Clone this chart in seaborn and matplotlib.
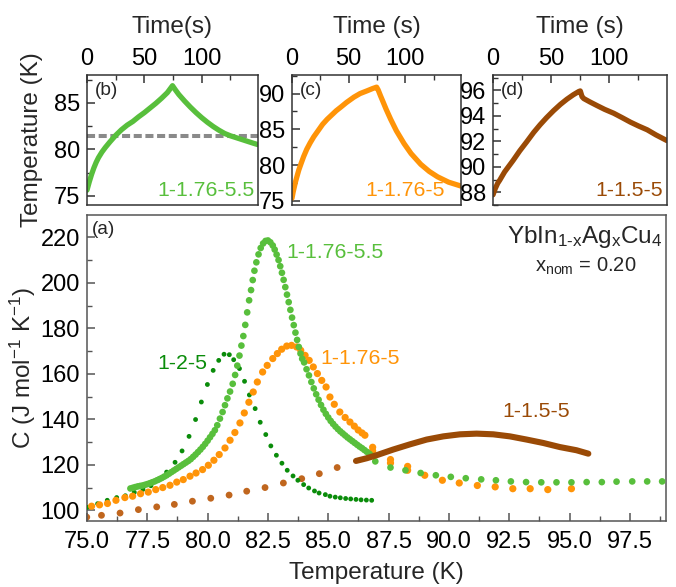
import numpy as np
import pandas as pd
import matplotlib
matplotlib.use("Agg")
import matplotlib.pyplot as plt
from matplotlib.ticker import MultipleLocator, FormatStrFormatter
import seaborn as sns

# ---------------- heat capacity data, panel (a) ----------------
# sample 1-2-5
t_125 = [75.00, 75.44, 75.84, 76.23, 76.59, 76.96, 77.32, 77.65, 77.98, 78.30,
         78.65, 78.94, 79.23, 79.50, 79.74, 79.99, 80.23, 80.46, 80.68, 80.90,
         81.08, 81.32, 81.53, 81.73, 81.97, 82.18, 82.41, 82.62, 82.85, 83.08,
         83.30, 83.54, 83.74, 83.98, 84.19, 84.43, 84.62, 84.88, 85.07, 85.29,
         85.50, 85.72, 85.93, 86.15, 86.36, 86.58, 86.80]
c_125 = [101.3, 102.9, 104.4, 105.6, 106.4, 107.9, 109.2, 110.8, 113.3, 116.8,
         121.1, 126.1, 132.5, 139.9, 147.6, 155.3, 161.5, 165.9, 168.6, 168.4,
         166.2, 162.3, 156.7, 150.7, 144.7, 138.7, 133.3, 128.3, 124.2, 120.7,
         117.6, 115.1, 113.2, 111.3, 109.8, 108.5, 107.6, 106.9, 106.2, 105.8,
         105.5, 105.2, 105.0, 104.8, 104.6, 104.5, 104.4]

# sample 1-1.76-5.5
t_55 = [76.80, 76.90, 77.00, 77.10, 77.20, 77.30, 77.40, 77.50, 77.60, 77.70,
        77.80, 77.90, 78.00, 78.10, 78.20, 78.30, 78.40, 78.50, 78.60, 78.70,
        78.80, 78.90, 79.00, 79.10, 79.20, 79.30, 79.40, 79.50, 79.60, 79.70,
        79.80, 79.90, 80.00, 80.10, 80.20, 80.30, 80.40, 80.51, 80.62, 80.72,
        80.82, 80.93, 81.04, 81.14, 81.23, 81.32, 81.40, 81.48, 81.56, 81.64,
        81.72, 81.80, 81.87, 81.94, 82.02, 82.11, 82.20, 82.30, 82.40, 82.50,
        82.60, 82.70, 82.78, 82.86, 82.94, 83.01, 83.08, 83.15, 83.22, 83.29,
        83.36, 83.43, 83.50, 83.57, 83.64, 83.71, 83.78, 83.85, 83.92, 84.00,
        84.10, 84.20, 84.30, 84.40, 84.50, 84.60, 84.70, 84.80, 84.90, 85.00,
        85.10, 85.20, 85.30, 85.40, 85.50, 85.60, 85.70, 85.80, 85.90, 86.00,
        86.10, 86.20, 86.30, 86.40, 86.50, 86.60, 86.70, 86.80, 86.95,
        87.58, 88.20, 88.83, 89.46, 90.08, 90.70, 91.34, 91.95, 92.57, 93.20,
        93.83, 94.46, 95.08, 95.71, 96.34, 96.95, 97.60, 98.22, 98.84]
c_55 = [109.6, 109.9, 110.2, 110.5, 110.7, 110.9, 111.2, 111.5, 111.9, 112.3,
        112.7, 113.2, 113.7, 114.2, 114.8, 115.4, 116.1, 116.8, 117.5, 118.2,
        118.9, 119.6, 120.3, 121.0, 121.7, 122.5, 123.5, 124.5, 125.6, 126.7,
        127.9, 129.2, 130.6, 132.1, 133.6, 135.2, 137.4, 140.3, 143.2, 146.2,
        149.2, 152.2, 155.6, 159.5, 163.6, 168.0, 172.4, 176.6, 181.5, 187.0,
        192.3, 196.8, 201.2, 205.3, 209.0, 212.5, 215.3, 217.3, 218.4, 218.6,
        217.8, 216.4, 214.6, 212.4, 210.0, 207.3, 204.4, 201.3, 198.1, 194.8,
        191.5, 188.1, 184.7, 181.4, 178.1, 174.9, 171.8, 168.9, 166.6, 165.0,
        162.0, 159.3, 156.4, 153.6, 151.0, 148.6, 146.3, 144.2, 142.4, 140.8,
        139.3, 138.0, 136.8, 135.7, 134.7, 133.8, 132.9, 132.0, 131.2, 130.4,
        129.6, 128.8, 128.0, 127.3, 126.5, 125.7, 124.9, 124.0, 121.5,
        118.8, 117.6, 116.4, 115.4, 114.7, 114.1, 113.6, 113.2, 112.7, 112.4,
        112.3, 112.3, 112.3, 112.4, 112.4, 112.6, 112.7, 112.7, 112.7]

# sample 1-1.76-5
t_5 = [75.19, 75.52, 75.85, 76.20, 76.57, 76.89, 77.22, 77.54, 77.85, 78.14,
       78.44, 78.72, 78.99, 79.27, 79.52, 79.79, 80.03, 80.26, 80.48, 80.72,
       80.93, 81.13, 81.34, 81.52, 81.71, 81.89, 82.06, 82.28, 82.47, 82.70,
       82.89, 83.07, 83.28, 83.48, 83.69, 83.86, 84.04, 84.21, 84.38, 84.55,
       84.73, 84.91, 85.07, 85.25, 85.48, 85.70, 85.90, 86.08, 86.24, 86.40,
       86.52, 86.84, 86.84, 87.58, 87.58, 88.29, 88.29, 89.00, 89.73, 90.43,
       91.18, 91.92, 92.65, 93.37, 94.10, 95.08]
c_5 = [101.8, 102.4, 103.0, 104.4, 105.6, 106.2, 107.3, 108.0, 109.1, 110.0,
       111.0, 112.4, 113.5, 115.0, 116.4, 117.9, 119.8, 122.0, 124.5, 127.4,
       130.8, 134.2, 138.4, 142.8, 147.5, 152.0, 156.4, 160.8, 163.7, 166.7,
       168.9, 170.8, 172.2, 172.5, 171.8, 170.3, 168.1, 165.9, 163.0, 160.1,
       157.1, 154.2, 149.8, 146.6, 143.2, 140.8, 138.8, 137.0, 135.3, 134.0,
       133.0, 127.7, 126.1, 122.3, 120.8, 119.3, 117.6, 115.4, 113.2, 112.0,
       110.9, 110.3, 109.5, 109.5, 109.1, 109.5]

# sample 1-1.5-5: sparse points and dense segment
t_15_pts = [74.99, 75.60, 76.37, 77.13, 77.89, 78.62, 79.37, 80.13, 80.89, 81.62,
            82.38, 83.14, 83.90, 84.63, 85.37]
c_15_pts = [97.0, 97.8, 98.8, 100.3, 101.5, 102.6, 104.0, 105.3, 106.7, 108.4,
            110.0, 112.0, 113.9, 116.1, 118.8]
t_15_line = [86.15, 86.60, 87.00, 87.69, 88.39, 89.08, 89.77, 90.46, 91.15, 91.84,
             92.53, 93.22, 93.91, 94.60, 95.29, 95.78]
c_15_line = [121.7, 122.9, 124.2, 126.7, 129.0, 131.1, 132.5, 133.4, 133.7, 133.4,
             132.5, 131.1, 129.6, 127.8, 126.4, 124.9]

# ---------------- temperature vs time, panels (b)-(d) ----------------
time_b = [0, 2, 4, 6, 8, 10, 13, 16, 20, 25, 30, 35, 40, 45, 50, 55, 60, 65, 70,
          74.5, 77, 80, 85, 90, 95, 100, 105, 110, 115, 120, 125, 130, 135, 140,
          145, 149]
temp_b = [75.6, 76.5, 77.3, 78.0, 78.6, 79.1, 79.7, 80.2, 80.8, 81.5, 82.1, 82.6,
          83.0, 83.5, 83.95, 84.45, 84.95, 85.5, 86.1, 86.85, 86.4, 85.9, 85.2,
          84.55, 83.95, 83.4, 82.9, 82.45, 82.05, 81.7, 81.45, 81.25, 81.05,
          80.85, 80.65, 80.5]
dash_level_b = 81.45

time_c = [0, 1, 2, 3, 4.4, 6, 8, 10.3, 13, 16, 19.2, 23, 27, 31, 35, 39, 43, 48,
          54.6, 60, 66.4, 71, 74.6, 76, 78, 80, 83, 87, 92, 98.8, 105, 113.5,
          121, 128.3, 138, 149]
temp_c = [75.35, 76.2, 76.9, 77.6, 78.4, 79.3, 80.2, 81.2, 82.2, 83.1, 83.95,
          84.8, 85.7, 86.4, 87.0, 87.6, 88.1, 88.75, 89.5, 90.0, 90.4, 90.7,
          90.9, 90.5, 89.7, 88.95, 87.8, 86.4, 84.8, 83.0, 81.6, 80.1, 79.1,
          78.35, 77.6, 77.05]

time_d = [0, 2, 4, 5.8, 10, 17.3, 23, 28.9, 35, 40.5, 46, 52, 58, 63.5, 69,
          73.6, 75, 76.5, 78, 83, 89.4, 96, 103.7, 111, 118.1, 125, 132.5,
          140, 149.5]
temp_d = [87.8, 88.3, 88.7, 88.95, 89.6, 90.5, 91.25, 91.95, 92.7, 93.3, 93.85,
          94.4, 94.9, 95.3, 95.65, 95.9, 95.95, 95.5, 95.35, 95.1, 94.8, 94.5,
          94.2, 93.85, 93.5, 93.2, 92.9, 92.5, 92.05]

# ---------------- styling ----------------
GREEN_L = "#58bf3c"
GREEN_D = "#0a8c0a"
ORANGE = "#ff9408"
BROWN = "#9a4a06"
BROWN_PT = "#c0661e"

sns.set_theme(style="ticks")
plt.rcParams["font.family"] = ["Liberation Sans", "DejaVu Sans"]
plt.rcParams["mathtext.fontset"] = "custom"
plt.rcParams["mathtext.rm"] = "Liberation Sans"
plt.rcParams["mathtext.it"] = "Liberation Sans"
plt.rcParams["mathtext.default"] = "regular"

TICK_FS = 17
LABEL_FS = 17.5
SERIES_FS = 15.3
TAG_FS = 13.7

fig = plt.figure(figsize=(6.76, 5.87), dpi=100)
W, H = 676, 587


def add_ax(x0, x1, ytop, ybot):
    return fig.add_axes([x0 / W, (H - ybot) / H, (x1 - x0) / W, (ybot - ytop) / H])


def style_axes(ax, spine_color):
    for s in ax.spines.values():
        s.set_color(spine_color)
        s.set_linewidth(1.1)
    ax.tick_params(which="both", direction="in", colors=spine_color,
                   labelcolor="black", labelsize=TICK_FS)
    ax.tick_params(which="major", length=6, width=1.1)
    ax.tick_params(which="minor", length=3.5, width=1.0)


# ---------- main panel (a) ----------
ax = add_ax(87, 666, 215, 521)
style_axes(ax, "#555555")

sns.scatterplot(x=t_15_pts, y=c_15_pts, ax=ax, color=BROWN_PT, s=24,
                edgecolor="none", zorder=2)
sns.scatterplot(x=t_125, y=c_125, ax=ax, color=GREEN_D, s=12,
                edgecolor="none", zorder=3)
sns.scatterplot(x=t_5, y=c_5, ax=ax, color=ORANGE, s=27,
                edgecolor="none", zorder=4)
sns.scatterplot(x=t_55, y=c_55, ax=ax, color=GREEN_L, s=23,
                edgecolor="none", zorder=5)
sns.lineplot(x=t_15_line, y=c_15_line, ax=ax, color=BROWN, lw=4.4,
             sort=False, estimator=None, zorder=6)

ax.set_xlim(75, 99)
ax.set_ylim(95.3, 229.8)
ax.xaxis.set_major_locator(MultipleLocator(2.5))
ax.xaxis.set_minor_locator(MultipleLocator(1.25))
ax.yaxis.set_major_locator(MultipleLocator(20))
ax.yaxis.set_minor_locator(MultipleLocator(10))
ax.xaxis.set_major_formatter(FormatStrFormatter("%.1f"))
ax.tick_params(axis="x", pad=7)
ax.tick_params(axis="y", pad=5)
ax.set_xlabel("Temperature (K)", fontsize=LABEL_FS, labelpad=7)
ax.set_ylabel("C (J mol$^{-1}$ K$^{-1}$)", fontsize=LABEL_FS, labelpad=2)

ax.text(0.009, 0.951, "(a)", transform=ax.transAxes, fontsize=TAG_FS,
        ha="left", va="center")
ax.text(0.994, 0.929, "YbIn$_{1\u2010x}$Ag$_x$Cu$_4$", transform=ax.transAxes,
        fontsize=17.5, ha="right", va="center")
ax.text(0.862, 0.831, "x$_{nom}$ = 0.20", transform=ax.transAxes,
        fontsize=14.5, ha="center", va="center")

ax.text(83.25, 213.4, "1-1.76-5.5", color=GREEN_L, fontsize=SERIES_FS,
        ha="left", va="center")
ax.text(84.68, 166.8, "1-1.76-5", color=ORANGE, fontsize=SERIES_FS,
        ha="left", va="center")
ax.text(77.91, 164.6, "1-2-5", color=GREEN_D, fontsize=SERIES_FS,
        ha="left", va="center")
ax.text(92.23, 143.3, "1-1.5-5", color=BROWN, fontsize=SERIES_FS,
        ha="left", va="center")


# ---------- inset panels (b), (c), (d) ----------
def time_panel(x0, x1, t, T, color, xmax, ylim, ymaj, ymin, tag, name,
               name_x, xlabel):
    a = add_ax(x0, x1, 75, 205)
    style_axes(a, "#333333")
    sns.lineplot(x=t, y=T, ax=a, color=color, lw=3.8, sort=False,
                 estimator=None)
    a.set_xlim(0, xmax)
    a.set_ylim(*ylim)
    a.xaxis.set_major_locator(MultipleLocator(50))
    a.xaxis.set_minor_locator(MultipleLocator(25))
    a.yaxis.set_major_locator(MultipleLocator(ymaj))
    a.yaxis.set_minor_locator(MultipleLocator(ymin))
    a.xaxis.tick_top()
    a.xaxis.set_label_position("top")
    a.tick_params(axis="x", which="both", bottom=False, top=True, pad=3.5)
    a.tick_params(axis="y", pad=5)
    a.set_xlabel(xlabel, fontsize=LABEL_FS, labelpad=11)
    a.set_ylabel("")
    a.text(0.047, 0.88, tag, transform=a.transAxes, fontsize=TAG_FS,
           ha="left", va="center")
    a.text(name_x, 0.11, name, transform=a.transAxes, fontsize=SERIES_FS,
           color=color, ha="right", va="center")
    return a


ax_b = time_panel(87, 258, time_b, temp_b, GREEN_L, 149, (74.0, 88.0), 5, 2.5,
                  "(b)", "1-1.76-5.5", 0.982, "Time(s)")
ax_b.axhline(dash_level_b, color="#8a8a8a", lw=2.9, dashes=(2.0, 0.9), zorder=1)
ax_b.set_ylabel("Temperature (K)", fontsize=LABEL_FS)
ax_b.yaxis.set_label_coords(-0.255, 0.5)

ax_c = time_panel(292, 461, time_c, temp_c, ORANGE, 149, (74.4, 92.6), 5, 2.5,
                  "(c)", "1-1.76-5", 0.905, "Time (s)")
ax_d = time_panel(493, 667, time_d, temp_d, BROWN, 149.5, (87.0, 97.2), 2, 1,
                  "(d)", "1-1.5-5", 0.979, "Time (s)")

fig.savefig("out.png", dpi=100)
